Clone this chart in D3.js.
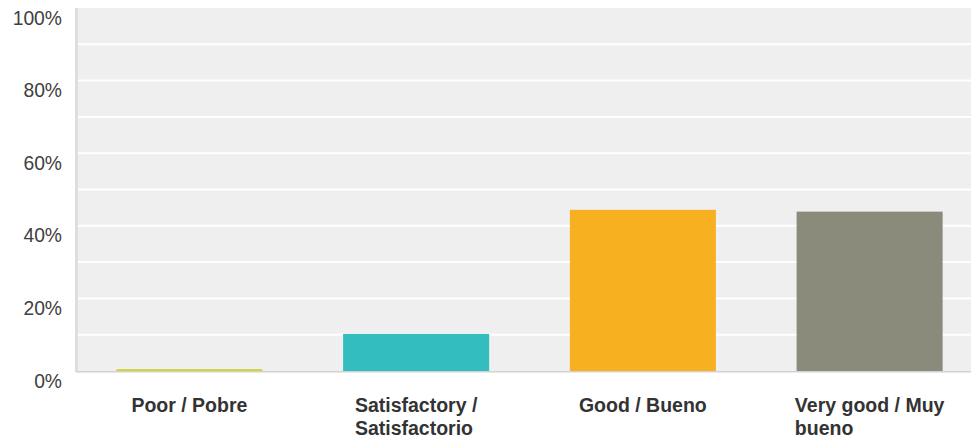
<!DOCTYPE html>
<html>
<head>
<meta charset="utf-8">
<script src="https://cdn.jsdelivr.net/npm/d3@7"></script>
<style>
  html, body { margin: 0; padding: 0; background: #fff; }
  svg { display: block; font-family: "Liberation Sans", Arial, sans-serif; }
</style>
</head>
<body>
<script>
var width = 971,
	height = 442;

// data
var categories = ["Poor / Pobre", "Satisfactory / Satisfactorio", "Good / Bueno", "Very good / Muy bueno"];
var values = [0.5, 10.2, 44.4, 43.9];
var colors = ["#d0d32c", "#33bdbf", "#f7b01f", "#8a8b7a"];
var yTicks = [0, 20, 40, 60, 80, 100];
var gridTicks = [10, 20, 30, 40, 50, 60, 70, 80, 90];

var plotLeft = 76, plotTop = 8, plotBottom = 371;

function init() {
	var svg = d3.select("body").append("svg").attr("width", width).attr("height", height);

	var x = d3.scaleBand().domain(categories).range([plotLeft, 983]).paddingInner(0.356).paddingOuter(0.178);
	var y = d3.scaleLinear().domain([0, 100]).range([plotBottom, plotTop]);

	// plot background
	svg.append("rect")
		.attr("x", plotLeft).attr("y", plotTop)
		.attr("width", width - plotLeft).attr("height", plotBottom - plotTop)
		.attr("fill", "#efefef");

	// gridlines
	svg.append("g").selectAll("line").data(gridTicks).enter().append("line")
		.attr("x1", plotLeft).attr("x2", width)
		.attr("y1", d => y(d)).attr("y2", d => y(d))
		.attr("stroke", "#fff").attr("stroke-width", 2);

	// left border
	svg.append("line")
		.attr("x1", plotLeft + 0.5).attr("x2", plotLeft + 0.5)
		.attr("y1", plotTop).attr("y2", plotBottom + 1)
		.attr("stroke", "#dedede").attr("stroke-width", 3);

	// bars
	svg.append("g").selectAll("rect").data(values).enter().append("rect")
		.attr("x", (d, i) => x(categories[i]))
		.attr("width", x.bandwidth())
		.attr("y", d => y(d))
		.attr("height", d => plotBottom - y(d))
		.attr("fill", (d, i) => colors[i]);

	// bottom axis line
	svg.append("line")
		.attr("x1", plotLeft).attr("x2", width)
		.attr("y1", plotBottom + 0.8).attr("y2", plotBottom + 0.8)
		.attr("stroke", "#d2d2d2").attr("stroke-width", 1.6);

	// y labels
	var yAxis = d3.axisLeft(y).tickValues(yTicks).tickFormat(d => d + "%").tickSize(0).tickPadding(0);
	var ya = svg.append("g").attr("transform", "translate(62,0)").call(yAxis);
	ya.select(".domain").remove();
	ya.selectAll("text")
		.attr("dy", null).attr("y", 16)
		.attr("font-size", 19.3).attr("font-family", "'Liberation Sans', Arial, sans-serif")
		.attr("fill", "#404040");

	// category labels, wrapped, block centred with lines left aligned
	var maxW = 160;
	categories.forEach(function(c) {
		var t = svg.append("text")
			.attr("font-size", 19.5).attr("font-weight", "bold").attr("fill", "#333");
		var words = c.split(" "), lines = [], line = [];
		var probe = t.append("tspan");
		words.forEach(function(w) {
			line.push(w);
			probe.text(line.join(" "));
			if (probe.node().getComputedTextLength() > maxW && line.length > 1) {
				line.pop();
				lines.push(line.join(" "));
				line = [w];
			}
		});
		lines.push(line.join(" "));
		probe.remove();
		var widest = 0;
		var spans = lines.map(function(l, i) {
			var s = t.append("tspan").text(l).attr("y", 411.7 + i * 23.3);
			widest = Math.max(widest, s.node().getComputedTextLength());
			return s;
		});
		var x0 = x(c) + x.bandwidth() / 2 - widest / 2;
		spans.forEach(s => s.attr("x", x0));
	});
}

init();
</script>
</body>
</html>
